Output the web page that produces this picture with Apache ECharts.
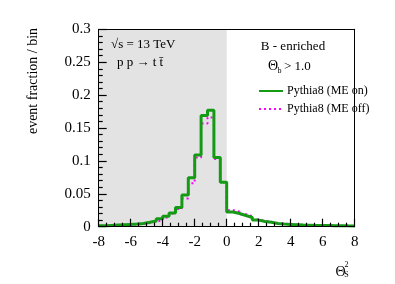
<!DOCTYPE html>
<html><head><meta charset="utf-8">
<script src="https://cdn.jsdelivr.net/npm/echarts@6/dist/echarts.min.js"></script>
<style>html,body{margin:0;padding:0;background:#fff}#c{width:395px;height:284px}</style>
</head><body><div id="c"></div>
<script>
const xMin = -8, xMax = 8, binWidth = 0.4;
const xTicks = [-8, -6, -4, -2, 0, 2, 4, 6, 8];
const yTicks = [0, 0.05, 0.1, 0.15, 0.2, 0.25, 0.3];
const meOn = [0.0015,0.002,0.0025,0.003,0.0035,0.004,0.005,0.0067,0.0087,0.012,
  0.016,0.021,0.029,0.048,0.0745,0.109,0.169,0.177,0.105,0.0675,
  0.0223,0.020,0.017,0.014,0.010,0.008,0.0067,0.005,0.004,0.0035,
  0.003,0.0025,0.0023,0.002,0.002,0.0018,0.0016,0.0015,0.0013,0.0012];
const meOff = [0.001,0.0015,0.002,0.0025,0.003,0.0035,0.0045,0.0055,0.0075,0.010,
  0.014,0.020,0.027,0.043,0.066,0.105,0.157,0.166,0.103,0.068,
  0.025,0.023,0.019,0.016,0.011,0.009,0.0075,0.0055,0.0045,0.0038,
  0.0032,0.0027,0.0024,0.0021,0.002,0.0018,0.0016,0.0015,0.0013,0.0012];
const seriesNames = ['Pythia8 (ME on)', 'Pythia8 (ME off)'];

function stepData(vals){
  const d = vals.map((v,i)=>[xMin + i*binWidth, v]);
  d.push([xMax, vals[vals.length-1]]);
  return d;
}
const serif = 'Liberation Serif';
const txt = (x,y,text,size,align,extra)=>Object.assign({type:'text', x:x, y:y, z:100, zlevel:1,
  style:{text:text, fontFamily:serif, fontSize:size, fill:'#000', align:align||'left', verticalAlign:'middle'}}, extra||{});
const frameAxis = {min:0, max:1, type:'value', z:5, zlevel:1, axisLine:{show:true, onZero:false, lineStyle:{color:'#000', width:1}},
  axisTick:{show:false}, axisLabel:{show:false}, splitLine:{show:false}};
const chart = echarts.init(document.getElementById('c'));
chart.setOption({
  animation:false,
  grid:{left:98.7, right:40.3, top:29.3, bottom:57.3},
  xAxis:[{type:'value', min:xMin, max:xMax, interval:2, z:5, zlevel:1,
    axisLine:{show:true, onZero:false, lineStyle:{color:'#000', width:1}},
    axisTick:{show:true, inside:true, length:8, lineStyle:{color:'#000', width:1.2}},
    minorTick:{show:true, splitNumber:4, length:4, lineStyle:{color:'#000', width:1.2}},
    splitLine:{show:false},
    axisLabel:{color:'#000', fontFamily:serif, fontSize:15, margin:8,
      formatter:v=>xTicks.includes(v)? String(v):''}
  }, Object.assign({position:'top'}, frameAxis)],
  yAxis:[{type:'value', min:0, max:0.3, interval:0.05, z:5, zlevel:1,
    axisLine:{show:true, onZero:false, lineStyle:{color:'#000', width:1}},
    axisTick:{show:true, inside:true, length:8, lineStyle:{color:'#000', width:1.2}},
    minorTick:{show:true, splitNumber:5, length:4, lineStyle:{color:'#000', width:1.2}},
    splitLine:{show:false},
    axisLabel:{color:'#000', fontFamily:serif, fontSize:15, margin:8,
      formatter:v=>{const t=yTicks.find(a=>Math.abs(a-v)<1e-9); return t===undefined?'':String(t);}}
  }, Object.assign({position:'right'}, frameAxis)],
  legend:{orient:'vertical', left:258, top:85, padding:0, itemGap:6, itemWidth:24, itemHeight:8, zlevel:1,
    itemStyle:{opacity:0},
    textStyle:{fontFamily:serif, fontSize:12, color:'#000', padding:[0,0,0,-1]},
    data:seriesNames},
  series:[
    {name:'region', type:'line', data:[], z:0, zlevel:0, silent:true,
      markArea:{silent:true, itemStyle:{color:'#e3e3e3'}, data:[[{xAxis:-8},{xAxis:0}]]}},
    {name:seriesNames[1], type:'line', step:'end', data:stepData(meOff), symbol:'none', z:2, zlevel:1,
      lineStyle:{color:'#ff00ff', width:2, type:[2,3]}, itemStyle:{color:'#ff00ff'}},
    {name:seriesNames[0], type:'line', step:'end', data:stepData(meOn), symbol:'none', z:3, zlevel:1,
      lineStyle:{color:'#159a15', width:3}, itemStyle:{color:'#159a15'}}
  ],
  graphic:[
    txt(33, 81, 'event fraction / bin', 14, 'center', {rotation:Math.PI/2}),
    txt(340.5, 272, 'Θ', 14, 'center'),
    txt(346.5, 265, '2', 8, 'center'),
    txt(346.5, 275, 'S', 8, 'center'),
    txt(111, 45, '√s = 13 TeV', 13, 'left'),
    txt(117, 63, 'p p → t t\u0304', 13, 'left'),
    txt(293, 47, 'B - enriched', 13, 'center'),
    txt(273, 66.5, 'Θ', 14, 'center'),
    txt(279.5, 71, 'b', 8, 'center'),
    txt(284, 66.5, '> 1.0', 13, 'left')
  ]
});
</script></body></html>
